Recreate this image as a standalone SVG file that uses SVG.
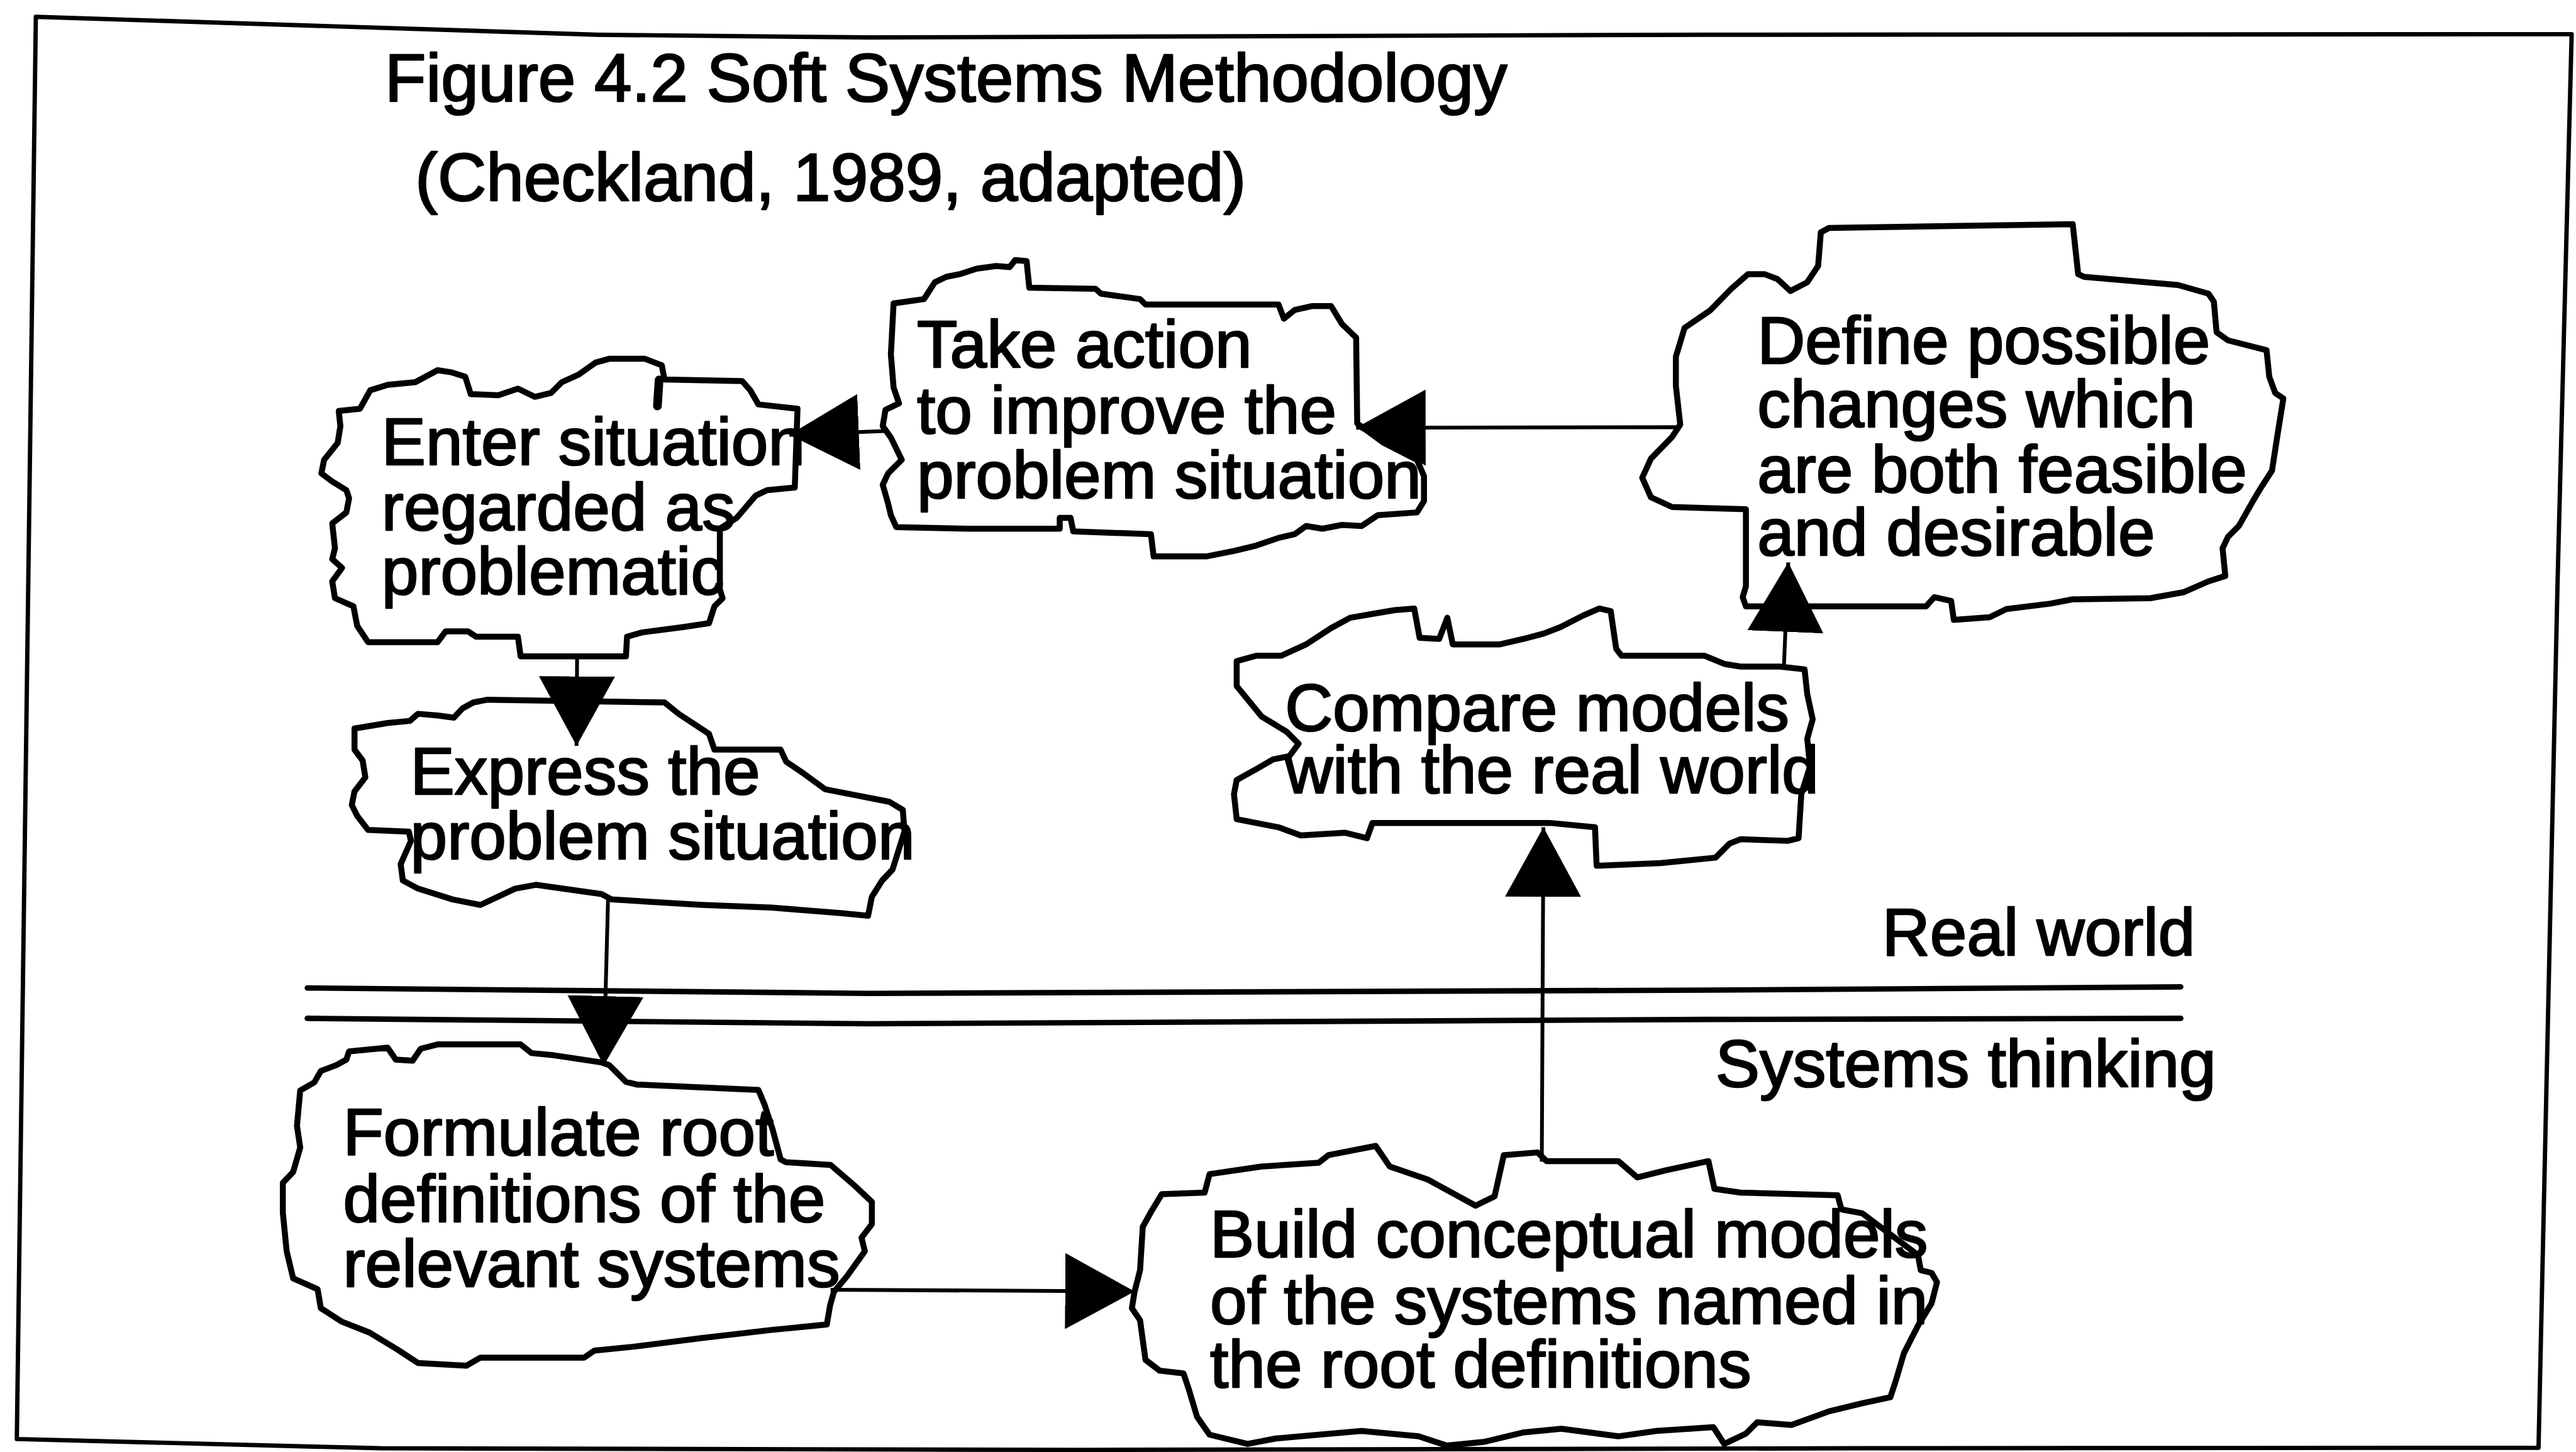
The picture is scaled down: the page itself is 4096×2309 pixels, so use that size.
<svg xmlns="http://www.w3.org/2000/svg" width="4096" height="2309" viewBox="0 0 4096 2309">
  <defs>
    <style>
      .cloud { fill: #ffffff; stroke: #000; stroke-width: 11; stroke-linejoin: round; stroke-linecap: round; }
      .frame { fill: none; stroke: #000; stroke-width: 8; stroke-linejoin: round; }
      .sep { fill: none; stroke: #000; stroke-width: 10; stroke-linecap: round; }
      .link { fill: none; stroke: #000; stroke-width: 7; marker-end: url(#head); }
      text { font-family: "Liberation Sans", Arial, sans-serif; font-size: 122px; fill: #000; stroke: #000; stroke-width: 3; stroke-linejoin: round; }
      .title { font-size: 124px; }
    </style>
    <marker id="head" viewBox="0 0 128 140" refX="128" refY="70" markerWidth="128" markerHeight="140" markerUnits="userSpaceOnUse" orient="auto">
      <path d="M0,0 L128,70 L0,140 Z" fill="#000"/>
    </marker>
  </defs>
  <rect width="4096" height="2309" fill="#ffffff"/>
  <g transform="scale(0.86322)">
    <!-- outer frame -->
    <g id="frame">
      <path class="frame" d="M66,31 L1100,64 L1600,69 L3145,64 L4737,63 L4711,1075 L4676,2667 L3431,2668 L2000,2671 L700,2668 L31,2651 Z"/>
    </g>

    <g id="title">
      <text class="title" x="709" y="186">Figure 4.2 Soft Systems Methodology</text>
      <text class="title" x="765" y="369">(Checkland, 1989, adapted)</text>
    </g>

    <!-- boundary between the real world and systems thinking -->
    <g id="boundary">
      <path class="sep" d="M566,1820 L1600,1830 L3145,1824 L4017,1818"/>
      <path class="sep" d="M566,1876 L1600,1886 L3145,1878 L4017,1876"/>
      <text x="3467" y="1760">Real world</text>
      <text x="3160" y="2002">Systems thinking</text>
    </g>

    <g id="node-enter">
      <path class="cloud" d="M624,757 L663,753 L682,719 L714,709 L765,704 L806,682 L832,686 L857,694 L867,726 L918,728 L954,716 L985,731 L1015,724 L1035,704 L1066,690 L1097,668 L1122,661 L1188,661 L1219,673 L1224,699 L1367,702 L1382,719 L1397,745 L1469,753 L1464,898 L1413,903 L1392,913 L1357,954 L1326,974 L1326,1086 L1331,1102 L1316,1117 L1306,1148 L1260,1155 L1183,1165 L1155,1173 L1153,1209 L959,1209 L954,1173 L877,1173 L862,1163 L821,1163 L806,1183 L678,1183 L658,1153 L651,1117 L617,1102 L612,1071 L630,1046 L612,1030 L617,1010 L612,964 L638,944 L643,918 L638,903 L612,887 L592,872 L597,847 L622,816 L627,785 Z"/>
      <path d="M1214,700 L1211,748" stroke="#000" stroke-width="16" stroke-linecap="round"/>
      <text x="703" y="856">Enter situation</text>
      <text x="703" y="976">regarded as</text>
      <text x="703" y="1095">problematic</text>
    </g>

    <g id="node-action">
      <path class="cloud" d="M1646,559 L1702,551 L1722,520 L1743,510 L1768,505 L1799,495 L1835,490 L1860,492 L1870,479 L1891,481 L1896,530 L2018,532 L2028,541 L2100,551 L2110,561 L2355,561 L2365,587 L2385,571 L2416,564 L2452,564 L2472,597 L2498,622 L2500,780 L2549,816 L2610,847 L2623,877 L2623,923 L2610,944 L2538,949 L2508,969 L2472,967 L2436,974 L2406,969 L2385,984 L2355,991 L2314,1005 L2273,1015 L2222,1025 L2125,1025 L2120,984 L1977,979 L1972,954 L1952,954 L1952,974 L1784,974 L1651,971 L1641,949 L1636,928 L1626,893 L1636,872 L1661,847 L1641,806 L1626,785 L1631,755 L1656,743 L1646,714 L1641,653 Z"/>
      <text x="1689" y="677">Take action</text>
      <text x="1689" y="798">to improve the</text>
      <text x="1689" y="917">problem situation</text>
    </g>

    <g id="node-define">
      <path class="cloud" d="M3354,428 L3369,420 L3818,413 L3828,505 L3839,510 L4012,525 L4068,541 L4078,556 L4083,612 L4104,627 L4175,645 L4180,694 L4191,724 L4206,734 L4196,796 L4185,867 L4165,898 L4150,923 L4124,969 L4104,989 L4094,1010 L4099,1061 L4068,1071 L4022,1091 L3961,1102 L3818,1104 L3777,1112 L3696,1122 L3665,1137 L3599,1142 L3594,1107 L3563,1100 L3548,1117 L3216,1117 L3210,1100 L3216,1080 L3216,938 L3145,936 L3080,934 L3041,916 L3025,880 L3041,845 L3080,805 L3095,782 L3087,711 L3087,657 L3103,604 L3150,572 L3189,532 L3220,505 L3250,505 L3274,514 L3298,536 L3329,520 L3349,490 Z"/>
      <text x="3237" y="670">Define possible</text>
      <text x="3237" y="787">changes which</text>
      <text x="3237" y="907">are both feasible</text>
      <text x="3237" y="1023">and desirable</text>
    </g>

    <g id="node-compare">
      <path class="cloud" d="M2278,1218 L2314,1208 L2360,1208 L2406,1187 L2452,1157 L2487,1138 L2528,1131 L2569,1124 L2605,1121 L2615,1175 L2651,1177 L2666,1138 L2676,1187 L2763,1187 L2814,1175 L2844,1167 L2875,1155 L2916,1134 L2946,1121 L2967,1126 L2977,1195 L2987,1208 L3140,1208 L3176,1223 L3206,1228 L3278,1228 L3324,1233 L3329,1279 L3339,1325 L3329,1361 L3334,1412 L3318,1463 L3313,1544 L3293,1549 L3206,1546 L3186,1554 L3160,1580 L3059,1590 L2941,1595 L2938,1524 L2855,1516 L2528,1516 L2518,1544 L2477,1534 L2396,1539 L2355,1524 L2278,1509 L2273,1463 L2278,1437 L2314,1417 L2345,1399 L2375,1393 L2392,1370 L2370,1348 L2324,1320 L2278,1264 Z"/>
      <text x="2367" y="1346">Compare models</text>
      <text x="2367" y="1461">with the real world</text>
    </g>

    <g id="node-express">
      <path class="cloud" d="M653,1342 L714,1332 L755,1328 L770,1315 L806,1318 L836,1322 L852,1305 L872,1294 L898,1289 L1224,1294 L1250,1315 L1285,1338 L1306,1352 L1316,1381 L1438,1381 L1448,1403 L1479,1424 L1520,1454 L1638,1477 L1663,1492 L1666,1532 L1644,1602 L1625,1622 L1606,1652 L1599,1687 L1548,1682 L1421,1672 L1293,1667 L1127,1657 L1108,1647 L987,1630 L949,1637 L885,1667 L834,1657 L770,1637 L742,1622 L738,1592 L757,1549 L753,1532 L678,1529 L658,1503 L648,1483 L653,1458 L673,1432 L668,1401 L653,1381 Z"/>
      <text x="756" y="1463">Express the</text>
      <text x="756" y="1583">problem situation</text>
    </g>

    <g id="node-formulate">
      <path class="cloud" d="M638,1952 L643,1937 L714,1930 L729,1952 L760,1954 L775,1932 L806,1924 L959,1924 L979,1940 L1020,1944 L1107,1957 L1122,1962 L1153,1993 L1173,1998 L1397,2008 L1408,2034 L1423,2080 L1438,2136 L1448,2141 L1530,2146 L1574,2184 L1606,2214 L1606,2255 L1587,2280 L1593,2305 L1561,2350 L1536,2380 L1529,2405 L1523,2440 L1421,2450 L1293,2465 L1166,2481 L1095,2488 L1076,2501 L885,2501 L859,2516 L770,2511 L732,2486 L681,2455 L630,2435 L591,2410 L585,2375 L540,2355 L528,2305 L521,2234 L521,2179 L540,2159 L553,2114 L547,2074 L553,2009 L579,1994 L591,1973 L620,1962 Z"/>
      <text x="632" y="2128">Formulate root</text>
      <text x="632" y="2251">definitions of the</text>
      <text x="632" y="2370">relevant systems</text>
    </g>

    <g id="node-build">
      <path class="cloud" d="M2140,2200 L2219,2197 L2228,2163 L2324,2149 L2429,2142 L2447,2128 L2534,2111 L2560,2149 L2630,2173 L2718,2221 L2753,2204 L2770,2128 L2832,2123 L2849,2139 L2981,2139 L3016,2169 L3068,2156 L3147,2139 L3158,2190 L3206,2197 L3385,2202 L3392,2228 L3430,2235 L3490,2280 L3533,2312 L3538,2340 L3558,2345 L3568,2362 L3558,2401 L3533,2442 L3507,2493 L3492,2544 L3482,2574 L3431,2585 L3369,2600 L3300,2625 L3237,2620 L3216,2641 L3176,2660 L3156,2629 L3051,2636 L2981,2646 L2876,2632 L2805,2639 L2735,2656 L2665,2663 L2613,2646 L2508,2636 L2350,2650 L2298,2660 L2228,2643 L2205,2610 L2190,2560 L2180,2530 L2136,2525 L2110,2505 L2100,2432 L2085,2410 L2090,2379 L2100,2340 L2105,2260 L2120,2233 Z"/>
      <text x="2229" y="2316">Build conceptual models</text>
      <text x="2229" y="2439">of the systems named in</text>
      <text x="2229" y="2555">the root definitions</text>
    </g>

    <!-- flow between the stages -->
    <g id="connectors">
      <path class="link" d="M1628,794 L1454,801"/>
      <path class="link" d="M3095,787 L2498,788"/>
      <path class="link" d="M3286,1228 L3294,1036"/>
      <path class="link" d="M2840,2140 L2843,1524"/>
      <path class="link" d="M1063,1209 L1062,1374"/>
      <path class="link" d="M1120,1657 L1112,1963"/>
      <path class="link" d="M1530,2376 L2090,2379"/>
    </g>
  </g>
</svg>
